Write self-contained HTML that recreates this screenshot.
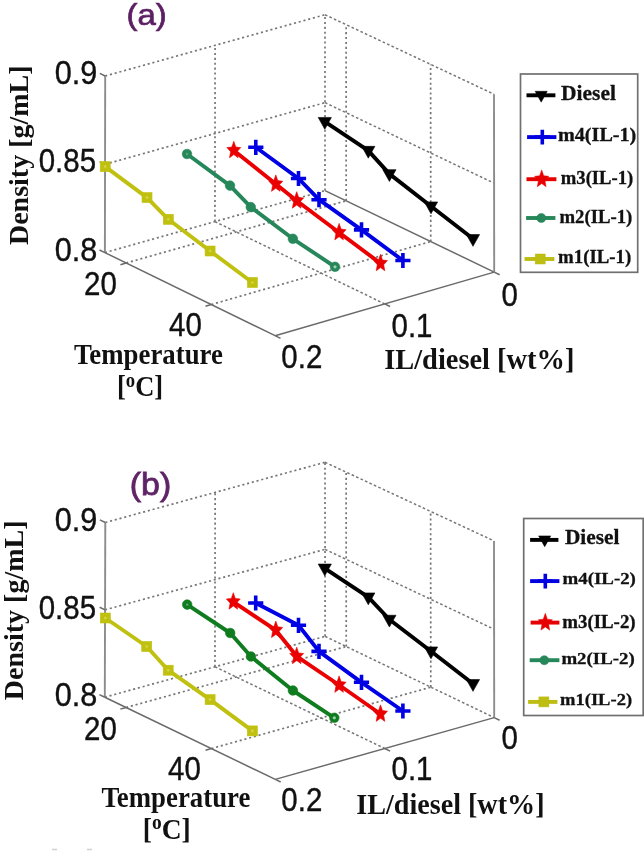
<!DOCTYPE html>
<html><head><meta charset="utf-8"><title>Density vs temperature and IL/diesel ratio</title>
<style>
html,body{margin:0;padding:0;background:#fff}
svg{display:block;filter:blur(0.5px)}
.g{stroke:#767676;stroke-width:1.7;stroke-dasharray:2.1 2.8;fill:none}
.g2{stroke:#767676;stroke-width:1.5;stroke-dasharray:2.6 2.3;fill:none}
.ax{stroke:#6a6a6a;stroke-width:1.5;fill:none}
.axv{stroke:#8c8c8c;stroke-width:1.9;fill:none}
.ss{font-family:"Liberation Sans",Arial,sans-serif;fill:#111;stroke:#111;stroke-width:0.35}
.sb{font-family:"Liberation Serif","Times New Roman",serif;font-weight:bold;fill:#111}
.pp{font-family:"Liberation Sans","DejaVu Sans",sans-serif;fill:#5c1f63;stroke:#5c1f63;stroke-width:0.7}
.pb{fill:#5f2466;stroke:#5f2466;stroke-width:0.75}
.lg{stroke:#111;stroke-width:0.3}
</style></head><body>
<svg width="644" height="851" viewBox="0 0 644 851">
<rect width="644" height="851" fill="#fff"/>
<line x1="105.2" y1="76" x2="325" y2="14.7" class="g"/>
<line x1="105.05" y1="164.3" x2="325" y2="102.65" class="g"/>
<line x1="104.9" y1="252.6" x2="325" y2="190.6" class="g"/>
<line x1="214.95" y1="221.6" x2="215.1" y2="45.35" class="g"/>
<line x1="325" y1="190.6" x2="325" y2="14.7" class="g"/>
<line x1="325" y1="14.7" x2="494" y2="94.2" class="g2"/>
<line x1="325" y1="102.65" x2="494.1" y2="183.15" class="g2"/>
<line x1="325" y1="190.6" x2="494.2" y2="272.1" class="ax"/>
<line x1="346.15" y1="200.79" x2="346.12" y2="24.64" class="g"/>
<line x1="430.75" y1="241.54" x2="430.62" y2="64.39" class="g"/>
<line x1="126.18" y1="262.99" x2="346.15" y2="200.79" class="g"/>
<line x1="211.28" y1="304.54" x2="430.75" y2="241.54" class="g"/>
<line x1="214.95" y1="221.6" x2="384.65" y2="303.9" class="g2"/>
<line x1="104.9" y1="252.6" x2="105.2" y2="76" class="axv"/>
<line x1="494.2" y1="272.1" x2="494" y2="94.2" class="axv"/>
<line x1="104.9" y1="252.6" x2="275.1" y2="335.7" class="ax"/>
<line x1="275.1" y1="335.7" x2="494.2" y2="272.1" class="ax"/>
<line x1="126.18" y1="262.99" x2="120.41" y2="264.66" class="ax"/>
<line x1="211.28" y1="304.54" x2="205.51" y2="306.21" class="ax"/>
<line x1="275.1" y1="335.7" x2="280.49" y2="338.33" class="ax"/>
<line x1="384.65" y1="303.9" x2="390.04" y2="306.53" class="ax"/>
<line x1="494.2" y1="272.1" x2="499.59" y2="274.73" class="ax"/>
<line x1="104.9" y1="252.6" x2="99.51" y2="249.97" class="ax"/>
<line x1="105.05" y1="164.3" x2="99.66" y2="161.67" class="ax"/>
<line x1="105.2" y1="76" x2="99.81" y2="73.37" class="ax"/>
<path d="M105.2 166.6 L147 197.6 L168.3 219.3 L210.1 251 L252.4 282.5" fill="none" stroke="#c0c010" stroke-width="3.9" stroke-linejoin="round"/><g fill="#c0c010" stroke="#c0c010" stroke-width="0.6"><rect x="100.2" y="161.6" width="10" height="10"/><rect x="142" y="192.6" width="10" height="10"/><rect x="163.3" y="214.3" width="10" height="10"/><rect x="205.1" y="246" width="10" height="10"/><rect x="247.4" y="277.5" width="10" height="10"/></g><g fill="#d6d642"><circle cx="105.2" cy="166.6" r="1.3"/><circle cx="147" cy="197.6" r="1.3"/><circle cx="168.3" cy="219.3" r="1.3"/><circle cx="210.1" cy="251" r="1.3"/><circle cx="252.4" cy="282.5" r="1.3"/></g>
<path d="M187 154 L230 185.6 L250.8 207.1 L292.9 238.8 L335 266.8" fill="none" stroke="#26875a" stroke-width="3.9" stroke-linejoin="round"/><g fill="#26875a" stroke="#26875a" stroke-width="0.6"><circle cx="187" cy="154" r="4.8"/><circle cx="230" cy="185.6" r="4.8"/><circle cx="250.8" cy="207.1" r="4.8"/><circle cx="292.9" cy="238.8" r="4.8"/><circle cx="335" cy="266.8" r="4.8"/></g><circle cx="335" cy="266.8" r="1.6" fill="#9fd0a8"/><circle cx="187" cy="154" r="1.2" fill="#5aa877"/>
<path d="M233.8 150.4 L275.8 184 L296.7 200.8 L339.1 232.5 L380.5 263.4" fill="none" stroke="#ea0000" stroke-width="3.9" stroke-linejoin="round"/><g fill="#ea0000" stroke="#ea0000" stroke-width="0.6"><polygon points="233.8,141.3 235.77,147 240.72,147.59 237,151.7 238.08,157.76 233.8,154.6 229.52,157.76 230.6,151.7 226.88,147.59 231.83,147"/><polygon points="275.8,174.9 277.77,180.6 282.72,181.19 279,185.3 280.08,191.36 275.8,188.2 271.52,191.36 272.6,185.3 268.88,181.19 273.83,180.6"/><polygon points="296.7,191.7 298.67,197.4 303.62,197.99 299.9,202.1 300.98,208.16 296.7,205 292.42,208.16 293.5,202.1 289.78,197.99 294.73,197.4"/><polygon points="339.1,223.4 341.07,229.1 346.02,229.69 342.3,233.8 343.38,239.86 339.1,236.7 334.82,239.86 335.9,233.8 332.18,229.69 337.13,229.1"/><polygon points="380.5,254.3 382.47,260 387.42,260.59 383.7,264.7 384.78,270.76 380.5,267.6 376.22,270.76 377.3,264.7 373.58,260.59 378.53,260"/></g>
<path d="M255.8 147.3 L298.5 178.5 L319 199.7 L361.5 229.9 L402.9 260.5" fill="none" stroke="#0000e4" stroke-width="3.9" stroke-linejoin="round"/><g fill="#0000e4" stroke="#0000e4" stroke-width="0.6"><path d="M248.2 147.3H263.4M255.8 139.7V154.9" fill="none" stroke-width="3.6"/><path d="M290.9 178.5H306.1M298.5 170.9V186.1" fill="none" stroke-width="3.6"/><path d="M311.4 199.7H326.6M319 192.1V207.3" fill="none" stroke-width="3.6"/><path d="M353.9 229.9H369.1M361.5 222.3V237.5" fill="none" stroke-width="3.6"/><path d="M395.3 260.5H410.5M402.9 252.9V268.1" fill="none" stroke-width="3.6"/></g>
<path d="M324.8 121.7 L368.3 150.6 L389.4 173.9 L431 206.2 L473 238.8" fill="none" stroke="#000" stroke-width="3.9" stroke-linejoin="round"/><g fill="#000" stroke="#000" stroke-width="0.6"><polygon points="318.2,117.45 331.4,117.45 324.8,129.25"/><polygon points="361.7,146.35 374.9,146.35 368.3,158.15"/><polygon points="382.8,169.65 396,169.65 389.4,181.45"/><polygon points="424.4,201.95 437.6,201.95 431,213.75"/><polygon points="466.4,234.55 479.6,234.55 473,246.35"/></g>
<line x1="105.3" y1="522.5" x2="325" y2="462.3" class="g"/>
<line x1="105.05" y1="609.85" x2="325.05" y2="549.35" class="g"/>
<line x1="104.8" y1="697.2" x2="325.1" y2="636.4" class="g"/>
<line x1="214.95" y1="666.8" x2="215.15" y2="492.4" class="g"/>
<line x1="325.1" y1="636.4" x2="325" y2="462.3" class="g"/>
<line x1="325" y1="462.3" x2="494" y2="540.9" class="g2"/>
<line x1="325.05" y1="549.35" x2="494.1" y2="629.25" class="g2"/>
<line x1="325.1" y1="636.4" x2="494.2" y2="717.6" class="g2"/>
<line x1="346.24" y1="646.55" x2="346.12" y2="472.12" class="g"/>
<line x1="430.79" y1="687.15" x2="430.62" y2="511.43" class="g"/>
<line x1="126.11" y1="707.48" x2="346.24" y2="646.55" class="g"/>
<line x1="211.36" y1="748.58" x2="430.79" y2="687.15" class="g"/>
<line x1="214.95" y1="666.8" x2="384.75" y2="748.5" class="g2"/>
<line x1="104.8" y1="697.2" x2="105.3" y2="522.5" class="axv"/>
<line x1="494.2" y1="717.6" x2="494" y2="540.9" class="axv"/>
<line x1="104.8" y1="697.2" x2="275.3" y2="779.4" class="ax"/>
<line x1="275.3" y1="779.4" x2="494.2" y2="717.6" class="ax"/>
<line x1="126.11" y1="707.48" x2="120.34" y2="709.11" class="ax"/>
<line x1="211.36" y1="748.58" x2="205.59" y2="750.21" class="ax"/>
<line x1="275.3" y1="779.4" x2="280.7" y2="782.01" class="ax"/>
<line x1="384.75" y1="748.5" x2="390.15" y2="751.11" class="ax"/>
<line x1="494.2" y1="717.6" x2="499.6" y2="720.21" class="ax"/>
<line x1="104.8" y1="697.2" x2="99.4" y2="694.59" class="ax"/>
<line x1="105.05" y1="609.85" x2="99.65" y2="607.24" class="ax"/>
<line x1="105.3" y1="522.5" x2="99.9" y2="519.89" class="ax"/>
<path d="M105.3 618 L146.7 646.5 L168.2 670.2 L210.1 699.6 L252.4 730.9" fill="none" stroke="#c0c010" stroke-width="3.9" stroke-linejoin="round"/><g fill="#c0c010" stroke="#c0c010" stroke-width="0.6"><rect x="100.3" y="613" width="10" height="10"/><rect x="141.7" y="641.5" width="10" height="10"/><rect x="163.2" y="665.2" width="10" height="10"/><rect x="205.1" y="694.6" width="10" height="10"/><rect x="247.4" y="725.9" width="10" height="10"/></g><g fill="#d6d642"><circle cx="105.3" cy="618" r="1.3"/><circle cx="146.7" cy="646.5" r="1.3"/><circle cx="168.2" cy="670.2" r="1.3"/><circle cx="210.1" cy="699.6" r="1.3"/><circle cx="252.4" cy="730.9" r="1.3"/></g>
<path d="M187.2 604.6 L230.2 633 L250.9 656.5 L292.9 690.5 L334.3 717.8" fill="none" stroke="#0f7d1f" stroke-width="3.9" stroke-linejoin="round"/><g fill="#0f7d1f" stroke="#0f7d1f" stroke-width="0.6"><circle cx="187.2" cy="604.6" r="4.8"/><circle cx="230.2" cy="633" r="4.8"/><circle cx="250.9" cy="656.5" r="4.8"/><circle cx="292.9" cy="690.5" r="4.8"/><circle cx="334.3" cy="717.8" r="4.8"/></g><circle cx="334.3" cy="717.8" r="1.6" fill="#9fd0a8"/><circle cx="187.2" cy="604.6" r="1.2" fill="#5aa877"/>
<path d="M233.3 601.8 L275.8 630.2 L296.7 656.3 L339.1 685 L380.5 714" fill="none" stroke="#ea0000" stroke-width="3.9" stroke-linejoin="round"/><g fill="#ea0000" stroke="#ea0000" stroke-width="0.6"><polygon points="233.3,592.7 235.27,598.4 240.22,598.99 236.5,603.1 237.58,609.16 233.3,606 229.02,609.16 230.1,603.1 226.38,598.99 231.33,598.4"/><polygon points="275.8,621.1 277.77,626.8 282.72,627.39 279,631.5 280.08,637.56 275.8,634.4 271.52,637.56 272.6,631.5 268.88,627.39 273.83,626.8"/><polygon points="296.7,647.2 298.67,652.9 303.62,653.49 299.9,657.6 300.98,663.66 296.7,660.5 292.42,663.66 293.5,657.6 289.78,653.49 294.73,652.9"/><polygon points="339.1,675.9 341.07,681.6 346.02,682.19 342.3,686.3 343.38,692.36 339.1,689.2 334.82,692.36 335.9,686.3 332.18,682.19 337.13,681.6"/><polygon points="380.5,704.9 382.47,710.6 387.42,711.19 383.7,715.3 384.78,721.36 380.5,718.2 376.22,721.36 377.3,715.3 373.58,711.19 378.53,710.6"/></g>
<path d="M255.7 603 L298.5 625.3 L319 651.4 L361.5 682.3 L402.9 711" fill="none" stroke="#0000e4" stroke-width="3.9" stroke-linejoin="round"/><g fill="#0000e4" stroke="#0000e4" stroke-width="0.6"><path d="M248.1 603H263.3M255.7 595.4V610.6" fill="none" stroke-width="3.6"/><path d="M290.9 625.3H306.1M298.5 617.7V632.9" fill="none" stroke-width="3.6"/><path d="M311.4 651.4H326.6M319 643.8V659" fill="none" stroke-width="3.6"/><path d="M353.9 682.3H369.1M361.5 674.7V689.9" fill="none" stroke-width="3.6"/><path d="M395.3 711H410.5M402.9 703.4V718.6" fill="none" stroke-width="3.6"/></g>
<path d="M324.8 568.3 L368.3 597.2 L389.4 619.5 L431 651.2 L473 683.8" fill="none" stroke="#000" stroke-width="3.9" stroke-linejoin="round"/><g fill="#000" stroke="#000" stroke-width="0.6"><polygon points="318.2,564.05 331.4,564.05 324.8,575.85"/><polygon points="361.7,592.95 374.9,592.95 368.3,604.75"/><polygon points="382.8,615.25 396,615.25 389.4,627.05"/><polygon points="424.4,646.95 437.6,646.95 431,658.75"/><polygon points="466.4,679.55 479.6,679.55 473,691.35"/></g>
<text class="ss" font-size="29.5" text-anchor="end" transform="translate(97.3 83.6) scale(1.04 1.1)">0.9</text>
<text class="ss" font-size="29.5" text-anchor="end" transform="translate(96.1 172.3) scale(1 1.1)">0.85</text>
<text class="ss" font-size="29.5" text-anchor="end" transform="translate(97.3 260.7) scale(1.04 1.1)">0.8</text>
<text class="ss" font-size="29.5" text-anchor="middle" transform="translate(100.4 295.2) scale(1 1.1)">20</text>
<text class="ss" font-size="29.5" text-anchor="middle" transform="translate(185.4 335.9) scale(1 1.1)">40</text>
<text class="ss" font-size="29.5" text-anchor="middle" transform="translate(301.8 368) scale(1 1.1)">0.2</text>
<text class="ss" font-size="29.5" text-anchor="middle" transform="translate(412 336.6) scale(1 1.1)">0.1</text>
<text class="ss" font-size="29.5" text-anchor="middle" transform="translate(509.6 305.5) scale(1 1.1)">0</text>
<text class="pp" font-size="30" text-anchor="middle" transform="translate(146.6 24.8) scale(1.1 0.98)">(a)</text>
<text class="sb" font-size="28" text-anchor="middle" transform="translate(27.6 155.2) rotate(-90) scale(1 1)">Density [g/mL]</text>
<text class="sb" font-size="25.3" text-anchor="middle" transform="translate(148.4 364) scale(1.06 1.15)">Temperature</text>
<text class="sb" font-size="25.5" text-anchor="middle" transform="translate(140.1 396.2) scale(1.04 1.14)">[<tspan font-size="18" dy="-8.2">o</tspan><tspan dy="8.2">C]</tspan></text>
<text class="sb" font-size="27.6" text-anchor="middle" transform="translate(479.3 369.2) scale(1.03 1.04)">IL/diesel [wt%]</text>
<text class="ss" font-size="29.5" text-anchor="end" transform="translate(97.3 530.6) scale(1.04 1.1)">0.9</text>
<text class="ss" font-size="29.5" text-anchor="end" transform="translate(96.1 619.3) scale(1 1.1)">0.85</text>
<text class="ss" font-size="29.5" text-anchor="end" transform="translate(97.3 705.7) scale(1.04 1.1)">0.8</text>
<text class="ss" font-size="29.5" text-anchor="middle" transform="translate(100.4 740.2) scale(1 1.1)">20</text>
<text class="ss" font-size="29.5" text-anchor="middle" transform="translate(184.5 779.6) scale(1 1.1)">40</text>
<text class="ss" font-size="29.5" text-anchor="middle" transform="translate(301.8 811) scale(1 1.1)">0.2</text>
<text class="ss" font-size="29.5" text-anchor="middle" transform="translate(412 779.6) scale(1 1.1)">0.1</text>
<text class="ss" font-size="29.5" text-anchor="middle" transform="translate(509.6 748.5) scale(1 1.1)">0</text>
<text class="pp pb" font-size="30" text-anchor="middle" transform="translate(150.5 495) scale(1.13 1.02)">(b)</text>
<text class="sb" font-size="28" text-anchor="middle" transform="translate(23.4 610.3) rotate(-90) scale(1 1)">Density [g/mL]</text>
<text class="sb" font-size="25.3" text-anchor="middle" transform="translate(175.9 806.8) scale(1.06 1.15)">Temperature</text>
<text class="sb" font-size="25.5" text-anchor="middle" transform="translate(166.8 838.6) scale(1.08 1.16)">[<tspan font-size="18" dy="-8.2">o</tspan><tspan dy="8.2">C]</tspan></text>
<text class="sb" font-size="27.6" text-anchor="middle" transform="translate(450.4 813.8) scale(1.02 1.04)">IL/diesel [wt%]</text>
<rect x="520.5" y="74" width="117.2" height="198.3" fill="#fff" stroke="#707070" stroke-width="1.7"/>
<line x1="526.5" y1="95.3" x2="555.4" y2="95.3" stroke="#000" stroke-width="3.9"/>
<g fill="#000" stroke="#000" stroke-width="0.5"><polygon points="535.13,91.29 547.27,91.29 541.2,102.15"/></g>
<text class="sb lg" font-size="20.4" x="561.1" y="99.9" textLength="54.8" lengthAdjust="spacingAndGlyphs">Diesel</text>
<line x1="527.1" y1="137.1" x2="556.4" y2="137.1" stroke="#0000e0" stroke-width="3.9"/>
<g fill="#0000e0" stroke="#0000e0" stroke-width="0.5"><path d="M534.85 137.1H549.75M542.3 129.65V144.55" fill="none" stroke-width="3.6"/></g>
<text class="sb lg" font-size="18.2" x="558" y="140.5" textLength="78.3" lengthAdjust="spacingAndGlyphs">m4(IL-1)</text>
<line x1="526.5" y1="179.2" x2="556.4" y2="179.2" stroke="#e60000" stroke-width="3.9"/>
<g fill="#e60000" stroke="#e60000" stroke-width="0.5"><polygon points="541.7,169.92 543.71,175.73 548.76,176.33 544.96,180.52 546.06,186.71 541.7,183.48 537.34,186.71 538.44,180.52 534.64,176.33 539.69,175.73"/></g>
<text class="sb lg" font-size="18.2" x="560.8" y="184.2" textLength="72.5" lengthAdjust="spacingAndGlyphs">m3(IL-1)</text>
<line x1="526.1" y1="218" x2="555.4" y2="218" stroke="#26875a" stroke-width="3.9"/>
<g fill="#26875a" stroke="#26875a" stroke-width="0.5"><circle cx="541.3" cy="218" r="4.56"/></g>
<text class="sb lg" font-size="18.2" x="559.4" y="222.6" textLength="72.9" lengthAdjust="spacingAndGlyphs">m2(IL-1)</text>
<line x1="524.5" y1="259" x2="554.4" y2="259" stroke="#bdbd12" stroke-width="3.9"/>
<g fill="#bdbd12" stroke="#bdbd12" stroke-width="0.5"><rect x="535.2" y="254" width="10" height="10"/></g>
<text class="sb lg" font-size="18.2" x="558" y="263.4" textLength="73.3" lengthAdjust="spacingAndGlyphs">m1(IL-1)</text>
<rect x="523.7" y="518.5" width="119.5" height="197" fill="#fff" stroke="#707070" stroke-width="1.7"/>
<line x1="530.1" y1="539.9" x2="558.4" y2="539.9" stroke="#000" stroke-width="3.9"/>
<g fill="#000" stroke="#000" stroke-width="0.5"><polygon points="538.63,535.89 550.77,535.89 544.7,546.75"/></g>
<text class="sb lg" font-size="20.8" x="564.9" y="544.3" textLength="54.5" lengthAdjust="spacingAndGlyphs">Diesel</text>
<line x1="530.1" y1="581.1" x2="559.4" y2="581.1" stroke="#0000e0" stroke-width="3.9"/>
<g fill="#0000e0" stroke="#0000e0" stroke-width="0.5"><path d="M537.85 581.1H552.75M545.3 573.65V588.55" fill="none" stroke-width="3.6"/></g>
<text class="sb lg" font-size="17.6" x="562.5" y="583.9" textLength="73.4" lengthAdjust="spacingAndGlyphs">m4(IL-2)</text>
<line x1="530.6" y1="622.6" x2="559.4" y2="622.6" stroke="#e60000" stroke-width="3.9"/>
<g fill="#e60000" stroke="#e60000" stroke-width="0.5"><polygon points="545.3,613.32 547.31,619.13 552.36,619.73 548.56,623.92 549.66,630.11 545.3,626.88 540.94,630.11 542.04,623.92 538.24,619.73 543.29,619.13"/></g>
<text class="sb lg" font-size="17.8" x="562.3" y="627.9" textLength="73.3" lengthAdjust="spacingAndGlyphs">m3(IL-2)</text>
<line x1="529.7" y1="660.2" x2="559.4" y2="660.2" stroke="#26875a" stroke-width="3.9"/>
<g fill="#26875a" stroke="#26875a" stroke-width="0.5"><circle cx="544.3" cy="660.2" r="4.56"/></g>
<text class="sb lg" font-size="17.6" x="561.4" y="663.6" textLength="73.3" lengthAdjust="spacingAndGlyphs">m2(IL-2)</text>
<line x1="528.1" y1="701.9" x2="557.4" y2="701.9" stroke="#bdbd12" stroke-width="3.9"/>
<g fill="#bdbd12" stroke="#bdbd12" stroke-width="0.5"><rect x="538.9" y="696.9" width="10" height="10"/></g>
<text class="sb lg" font-size="17.6" x="560" y="705" textLength="72.1" lengthAdjust="spacingAndGlyphs">m1(IL-2)</text>
<path d="M52 849.5h5M87 849.5h5" stroke="#cfcfcf" stroke-width="1.6"/>
</svg>
</body></html>
